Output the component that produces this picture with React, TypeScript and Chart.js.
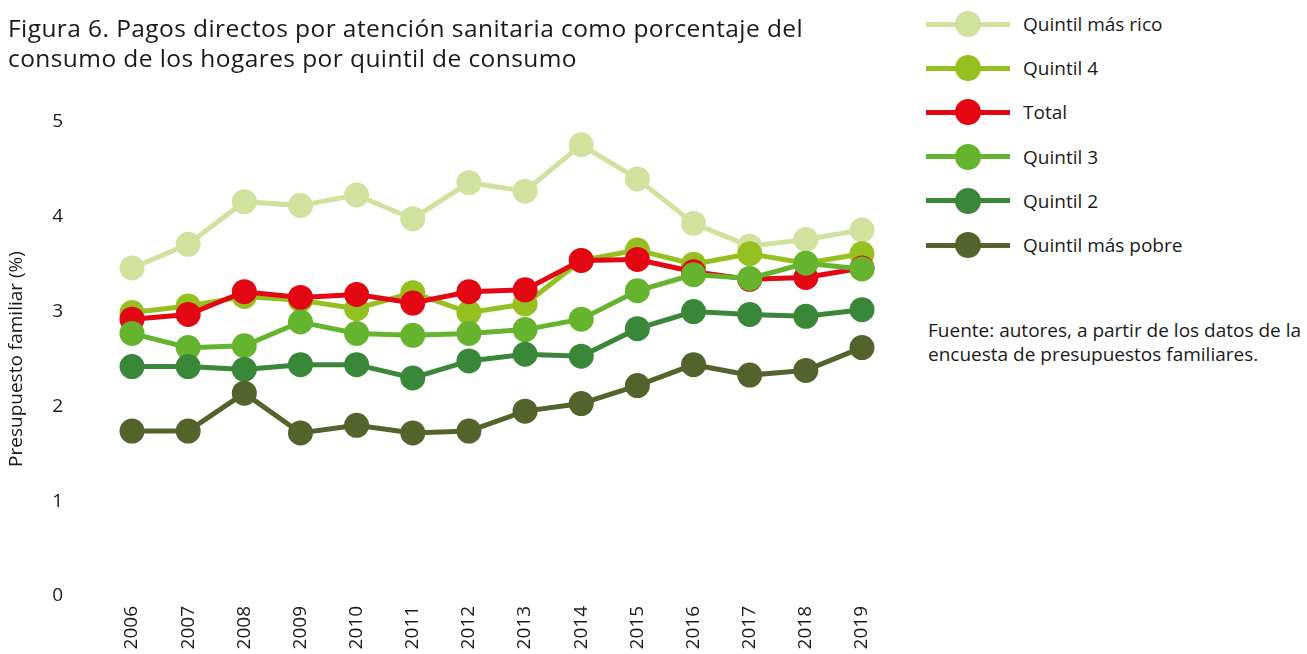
import React, { useEffect, useRef } from "react";
import { Chart, registerables } from "chart.js";

Chart.register(...registerables);

const years = ["2006", "2007", "2008", "2009", "2010", "2011", "2012", "2013", "2014", "2015", "2016", "2017", "2018", "2019"];
const quintilMasRico = [3.46, 3.71, 4.16, 4.12, 4.23, 3.98, 4.36, 4.27, 4.76, 4.40, 3.93, 3.69, 3.76, 3.86];
const quintil4 = [2.99, 3.06, 3.16, 3.12, 3.03, 3.20, 2.99, 3.08, 3.54, 3.65, 3.50, 3.61, 3.51, 3.61];
const total = [2.92, 2.97, 3.21, 3.15, 3.18, 3.09, 3.21, 3.23, 3.54, 3.55, 3.42, 3.34, 3.36, 3.46];
const quintil3 = [2.77, 2.62, 2.64, 2.89, 2.77, 2.75, 2.77, 2.81, 2.92, 3.22, 3.39, 3.35, 3.51, 3.45];
const quintil2 = [2.42, 2.42, 2.39, 2.44, 2.44, 2.30, 2.48, 2.55, 2.53, 2.82, 3.00, 2.97, 2.95, 3.02];
const quintilMasPobre = [1.74, 1.74, 2.14, 1.72, 1.80, 1.72, 1.74, 1.95, 2.03, 2.22, 2.44, 2.33, 2.38, 2.62];

const seriesNames = ["Quintil más rico", "Quintil 4", "Total", "Quintil 3", "Quintil 2", "Quintil más pobre"];
const seriesValues = [quintilMasRico, quintil4, total, quintil3, quintil2, quintilMasPobre];
const seriesColors = ["#d1e29f", "#94c11f", "#e30613", "#66b32e", "#3b873a", "#52632b"];

const yTicks = [0, 1, 2, 3, 4, 5];

const FONT = "'Open Sans', 'Noto Sans', sans-serif";

export default function App() {
  const ref = useRef<HTMLCanvasElement | null>(null);

  useEffect(() => {
    if (!ref.current) return;
    // reverse so that the poorest quintile is drawn on top
    const datasets = seriesNames
      .map((name, i) => ({
        label: name,
        data: seriesValues[i],
        borderColor: seriesColors[i],
        backgroundColor: seriesColors[i],
        pointBackgroundColor: seriesColors[i],
        pointBorderWidth: 0,
        pointRadius: 12.5,
        borderWidth: 5,
        tension: 0,
        clip: false as const,
      }))
      .reverse();

    const chart = new Chart(ref.current, {
      type: "line",
      data: { labels: years, datasets },
      options: {
        responsive: false,
        animation: false,
        layout: { padding: { top: 122, right: 38, left: 0, bottom: 0 } },
        plugins: { legend: { display: false }, tooltip: { enabled: false } },
        scales: {
          x: {
            offset: false,
            grid: { display: false },
            border: { display: false },
            ticks: {
              color: "#1a1a1a",
              font: { family: FONT, size: 19 },
              minRotation: 90,
              maxRotation: 90,
              padding: 2,
              autoSkip: false,
            },
            afterFit: (scale: any) => {
              scale.height = 58;
            },
          },
          y: {
            min: 0,
            max: 5,
            grid: { display: false },
            border: { display: false },
            afterBuildTicks: (scale: any) => {
              scale.ticks = yTicks.map((v) => ({ value: v }));
            },
            ticks: {
              color: "#1a1a1a",
              font: { family: FONT, size: 19 },
              padding: 61,
            },
            title: {
              display: true,
              text: "Presupuesto familiar (%)",
              color: "#1a1a1a",
              font: { family: FONT, size: 19 },
              padding: { top: 5, bottom: 0 },
            },
            afterFit: (scale: any) => {
              scale.width = 132;
              scale.paddingTop = 0;
              scale.paddingBottom = 0;
            },
          },
        },
      },
    });
    return () => chart.destroy();
  }, []);

  return (
    <div style={{ position: "absolute", left: 0, top: 0, width: 1307, height: 654, background: "#fff", fontFamily: FONT, color: "#1a1a1a", overflow: "hidden" }}>
      <canvas ref={ref} width={900} height={654} style={{ position: "absolute", left: 0, top: 0, width: 900, height: 654 }} />
      <div
        style={{
          position: "absolute",
          left: 8,
          top: 13,
          fontSize: 24.5,
          lineHeight: "30px",
          letterSpacing: "0.42px",
          whiteSpace: "nowrap",
        }}
      >
        Figura 6. Pagos directos por atención sanitaria como porcentaje del
        <br />
        consumo de los hogares por quintil de consumo
      </div>
      {seriesNames.map((name, i) => (
        <div key={name} style={{ position: "absolute", left: 926, top: 24 + i * 44.2 - 13, height: 26, display: "flex", alignItems: "center" }}>
          <div style={{ position: "relative", width: 84, height: 26 }}>
            <div style={{ position: "absolute", left: 0, top: 10.5, width: 84, height: 5, background: seriesColors[i] }} />
            <div style={{ position: "absolute", left: 29, top: 0, width: 26, height: 26, borderRadius: "50%", background: seriesColors[i] }} />
          </div>
          <div style={{ marginLeft: 13, fontSize: 19, whiteSpace: "nowrap" }}>{name}</div>
        </div>
      ))}
      <div style={{ position: "absolute", left: 928, top: 318, fontSize: 19, lineHeight: "24px", whiteSpace: "nowrap" }}>
        Fuente: autores, a partir de los datos de la
        <br />
        encuesta de presupuestos familiares.
      </div>
    </div>
  );
}
